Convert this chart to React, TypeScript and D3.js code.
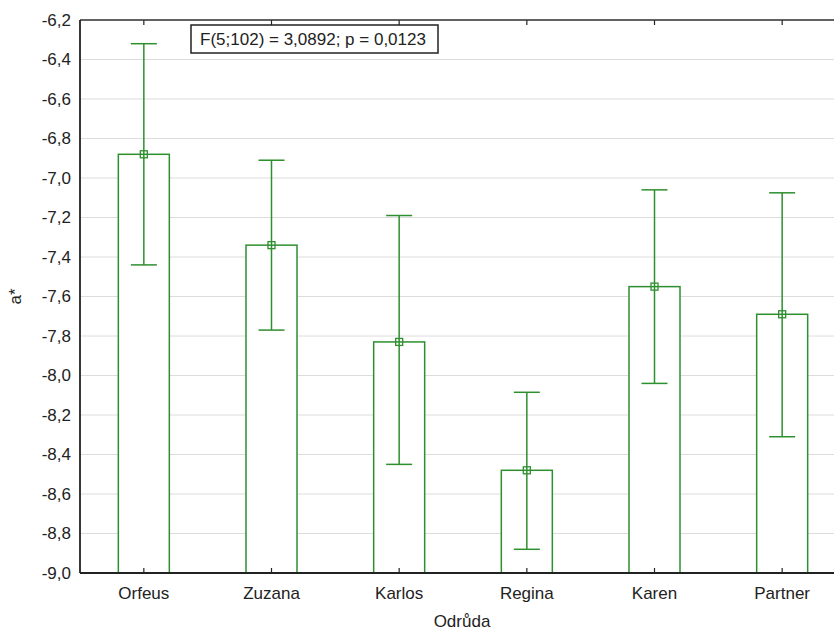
import React from "react";
import * as d3 from "d3";

const categories = ["Orfeus", "Zuzana", "Karlos", "Regina", "Karen", "Partner"];
const means = [-6.88, -7.34, -7.83, -8.48, -7.55, -7.69];
const upper = [-6.32, -6.91, -7.19, -8.085, -7.06, -7.075];
const lower = [-7.44, -7.77, -8.45, -8.88, -8.04, -8.31];
const yTicks = [-6.2, -6.4, -6.6, -6.8, -7.0, -7.2, -7.4, -7.6, -7.8, -8.0, -8.2, -8.4, -8.6, -8.8, -9.0];
const annotation = "F(5;102) = 3,0892; p = 0,0123";
const xTitle = "Odrůda";
const yTitle = "a*";

const W = 834, H = 632;
const M = { left: 80, right: 846, top: 20, bottom: 573 };
const GREEN = "#2e8f2e";
const FONT = "'Liberation Sans', Arial, sans-serif";
const FS = 17;

export default function App() {
  const x = d3.scaleBand().domain(categories).range([M.left, M.right]);
  const y = d3.scaleLinear().domain([-9.0, -6.2]).range([M.bottom, M.top]);
  const bw = 51;
  const cap = 26;
  const fmt = (v: number) => v.toFixed(1).replace(".", ",");
  return (
    <svg width={W} height={H} style={{ position: "absolute", left: 0, top: 0, background: "#fff" }}>
      <rect width={W} height={H} fill="#fff" />
      {yTicks.map((t) => (
        <g key={t}>
          <line x1={M.left} x2={W} y1={y(t)} y2={y(t)} stroke="#dcdcdc" strokeWidth={1} />
          <text x={71} y={y(t)} dy="0.35em" textAnchor="end" fontFamily={FONT} fontSize={FS} fill="#222">
            {fmt(t)}
          </text>
        </g>
      ))}
      {categories.map((c, i) => {
        const cx = x(c)! + x.bandwidth() / 2;
        return (
          <g key={c}>
            <rect x={cx - bw / 2} y={y(means[i])} width={bw} height={M.bottom - y(means[i])} fill="#fff" stroke={GREEN} strokeWidth={1.5} />
            <line x1={cx} x2={cx} y1={y(upper[i])} y2={y(lower[i])} stroke={GREEN} strokeWidth={1.5} />
            <line x1={cx - cap / 2} x2={cx + cap / 2} y1={y(upper[i])} y2={y(upper[i])} stroke={GREEN} strokeWidth={1.5} />
            <line x1={cx - cap / 2} x2={cx + cap / 2} y1={y(lower[i])} y2={y(lower[i])} stroke={GREEN} strokeWidth={1.5} />
            <rect x={cx - 3.5} y={y(means[i]) - 3.5} width={7} height={7} fill="none" stroke={GREEN} strokeWidth={1.3} />
            <line x1={cx} x2={cx} y1={M.bottom} y2={M.bottom - 5} stroke="#222" strokeWidth={1.2} />
            <line x1={cx} x2={cx} y1={M.top} y2={M.top + 5} stroke="#222" strokeWidth={1.2} />
            <text x={cx} y={599} textAnchor="middle" fontFamily={FONT} fontSize={FS} fill="#222">
              {c}
            </text>
          </g>
        );
      })}
      <line x1={M.left} x2={W} y1={M.top} y2={M.top} stroke="#333" strokeWidth={1.5} />
      <line x1={M.left} x2={W} y1={M.bottom} y2={M.bottom} stroke="#222" strokeWidth={1.8} />
      <line x1={M.left} x2={M.left} y1={M.top} y2={M.bottom} stroke="#222" strokeWidth={1.8} />
      <rect x={191} y={25} width={247} height={28} fill="#fff" stroke="#222" strokeWidth={1.5} />
      <text x={313} y={39} dy="0.35em" textAnchor="middle" fontFamily={FONT} fontSize={FS} fill="#222">
        {annotation}
      </text>
      <text x={462} y={627} textAnchor="middle" fontFamily={FONT} fontSize={FS} fill="#222">
        {xTitle}
      </text>
      <text transform={`translate(21,${(M.top + M.bottom) / 2}) rotate(-90)`} textAnchor="middle" fontFamily={FONT} fontSize={FS} fill="#222">
        {yTitle}
      </text>
    </svg>
  );
}
